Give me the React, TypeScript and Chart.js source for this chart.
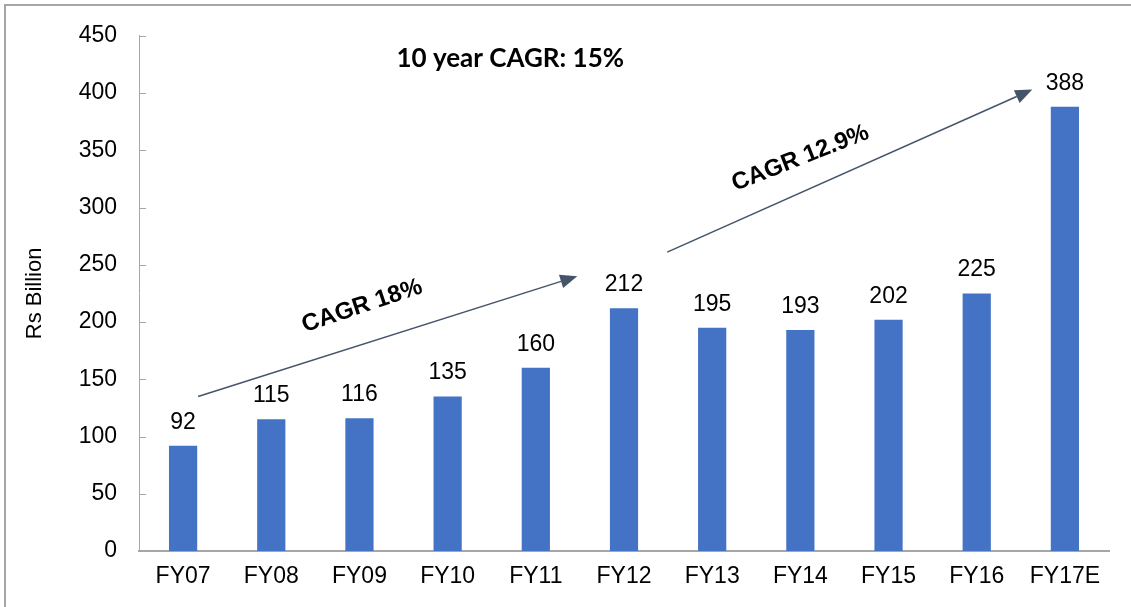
import React, { useEffect, useRef } from "react";
import { Chart, registerables } from "chart.js";

Chart.register(...registerables);

const categories = ["FY07", "FY08", "FY09", "FY10", "FY11", "FY12", "FY13", "FY14", "FY15", "FY16", "FY17E"];
const revenue = [92, 115, 116, 135, 160, 212, 195, 193, 202, 225, 388];
const yTicksMax = 450;
const yTickStep = 50;

// annotation anchors in data units: [category index, value]
const arrow1 = [[0.17, 135], [4.47, 240]];
const arrow2 = [[5.49, 261], [9.63, 403]];
const label1 = { text: "CAGR 18%", at: [2.03, 214], angle: -18.5 };
const label2 = { text: "CAGR 12.9%", at: [7.0, 343], angle: -21.5 };
const headline = { text: "10 year CAGR: 15%", at: [3.71, 430] };

const FONT = "'Liberation Sans', Arimo, Helvetica, sans-serif";

const overlay = {
  id: "overlay",
  beforeDraw(chart: any) {
    const ctx = chart.ctx;
    ctx.save();
    ctx.fillStyle = "#A6A6A6";
    ctx.fillRect(4, 4, chart.width, 2);
    ctx.fillRect(4, 4, 2, chart.height);
    ctx.restore();
  },
  afterDraw(chart: any) {
    const ctx = chart.ctx;
    const xs = chart.scales.x;
    const ys = chart.scales.y;
    const px = (p: number[]) => [xs.getPixelForValue(p[0]), ys.getPixelForValue(p[1])];
    ctx.save();
    ctx.strokeStyle = "#A6A6A6";
    ctx.lineWidth = 1;
    ys.ticks.forEach((_t: any, i: number) => {
      const y = Math.round(ys.getPixelForTick(i)) + 0.5;
      ctx.beginPath();
      ctx.moveTo(chart.chartArea.left, y);
      ctx.lineTo(chart.chartArea.left + 7, y);
      ctx.stroke();
    });
    const meta = chart.getDatasetMeta(0);
    ctx.fillStyle = "#000";
    ctx.font = `23px ${FONT}`;
    ctx.textAlign = "center";
    ctx.textBaseline = "alphabetic";
    meta.data.forEach((bar: any, i: number) => {
      ctx.fillText(String(revenue[i]), bar.x, bar.y - 17);
    });
    const drawArrow = (a: number[][]) => {
      const [x1, y1] = px(a[0]);
      const [x2, y2] = px(a[1]);
      const ang = Math.atan2(y2 - y1, x2 - x1);
      const hl = 17, hw = 7;
      ctx.strokeStyle = "#44546A";
      ctx.fillStyle = "#44546A";
      ctx.lineWidth = 1.5;
      ctx.beginPath();
      ctx.moveTo(x1, y1);
      ctx.lineTo(x2 - Math.cos(ang) * hl, y2 - Math.sin(ang) * hl);
      ctx.stroke();
      const bx = x2 - Math.cos(ang) * hl, by = y2 - Math.sin(ang) * hl;
      ctx.beginPath();
      ctx.moveTo(x2, y2);
      ctx.lineTo(bx + Math.sin(ang) * hw, by - Math.cos(ang) * hw);
      ctx.lineTo(bx - Math.sin(ang) * hw, by + Math.cos(ang) * hw);
      ctx.closePath();
      ctx.fill();
    };
    drawArrow(arrow1);
    drawArrow(arrow2);
    [label1, label2].forEach((l) => {
      const [x, y] = px(l.at);
      ctx.save();
      ctx.translate(x, y);
      ctx.rotate((l.angle * Math.PI) / 180);
      ctx.fillStyle = "#000";
      ctx.font = `bold 24px ${FONT}`;
      ctx.textAlign = "center";
      ctx.textBaseline = "middle";
      ctx.fillText(l.text, 0, 0);
      ctx.restore();
    });
    const [hx, hy] = px(headline.at);
    ctx.fillStyle = "#000";
    ctx.font = `bold 26px Lato, 'Open Sans', sans-serif`;
    ctx.textAlign = "center";
    ctx.textBaseline = "middle";
    ctx.fillText(headline.text, hx, hy);
    ctx.restore();
  },
};

export default function App() {
  const ref = useRef<HTMLCanvasElement | null>(null);
  useEffect(() => {
    document.body.style.margin = "0";
    const chart = new Chart(ref.current as HTMLCanvasElement, {
      type: "bar",
      data: {
        labels: categories,
        datasets: [
          {
            data: revenue,
            backgroundColor: "#4472C4",
            borderWidth: 0,
            barPercentage: 0.32,
            categoryPercentage: 1,
          },
        ],
      },
      options: {
        animation: false,
        responsive: false,
        layout: { padding: { top: 34, right: 22, left: 0, bottom: 0 } },
        plugins: { legend: { display: false }, tooltip: { enabled: false } },
        scales: {
          x: {
            grid: { display: false, drawTicks: false },
            border: { color: "#A6A6A6", width: 2 },
            ticks: { color: "#000", font: { family: FONT, size: 23 }, padding: 12, maxRotation: 0 },
            afterFit: (s: any) => { s.height = 56; },
          },
          y: {
            min: 0,
            max: yTicksMax,
            grid: { display: false, drawTicks: false },
            border: { color: "#A6A6A6", width: 1 },
            ticks: { stepSize: yTickStep, color: "#000", font: { family: FONT, size: 23 }, padding: 22 },
            title: {
              display: true,
              text: "Rs Billion",
              color: "#000",
              font: { family: FONT, size: 22 },
              padding: { top: 22, bottom: 0 },
            },
            afterFit: (s: any) => { s.width = 139; },
          },
        },
      },
      plugins: [overlay],
    } as any);
    const fontsApi = (document as any).fonts;
    if (fontsApi && fontsApi.load) {
      Promise.all([
        fontsApi.load("23px 'Liberation Sans'"),
        fontsApi.load("bold 24px 'Liberation Sans'"),
        fontsApi.load("bold 26px Lato"),
      ]).then(() => chart.update()).catch(() => {});
    }
    return () => chart.destroy();
  }, []);
  return (
    <div style={{ width: 1131, height: 607 }}>
      <canvas ref={ref} width={1131} height={607} />
    </div>
  );
}
